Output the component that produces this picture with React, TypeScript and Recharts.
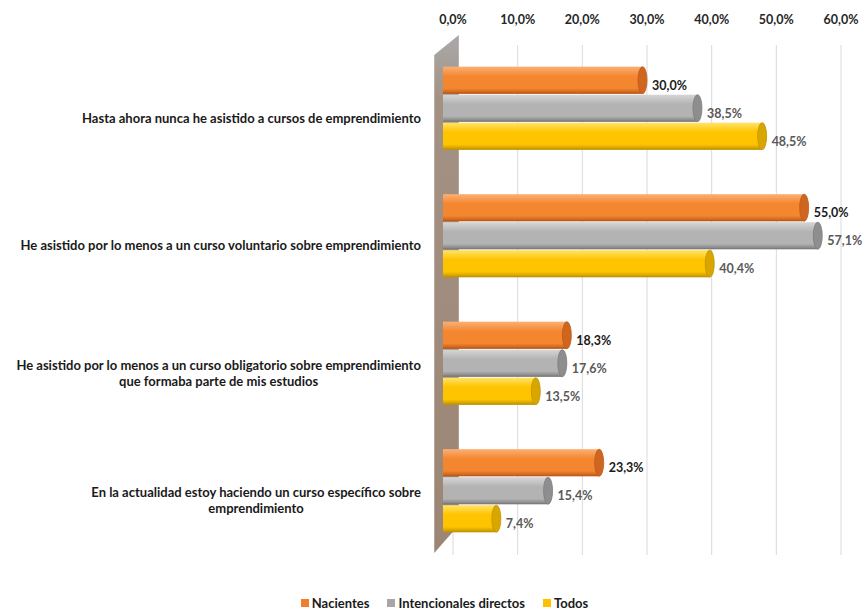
import React from "react";
import {
  BarChart,
  Bar,
  XAxis,
  YAxis,
  CartesianGrid,
  Legend,
  LabelList,
  ReferenceArea,
} from "recharts";

const categories = [
  "Hasta ahora nunca he asistido a cursos de emprendimiento",
  "He asistido por lo menos a un curso voluntario sobre emprendimiento",
  "He asistido por lo menos a un curso obligatorio sobre emprendimiento\nque formaba parte de mis estudios",
  "En la actualidad estoy haciendo un curso específico sobre\nemprendimiento",
];
const nacientes = [30.0, 55.0, 18.3, 23.3];
const intencionales = [38.5, 57.1, 17.6, 15.4];
const todos = [48.5, 40.4, 13.5, 7.4];
const xTicks = [0, 10, 20, 30, 40, 50, 60];
const seriesNames = ["Nacientes", "Intencionales directos", "Todos"];

const data = categories.map((c, i) => ({
  cat: c,
  nacientes: nacientes[i],
  intencionales: intencionales[i],
  todos: todos[i],
}));

const FONT = "Lato, 'Open Sans', sans-serif";
const LABEL_FONT_SIZE = 13;

const palette = [
  { id: "gOr", light: "#FBB075", main: "#F4862F", dark: "#BE5A19", cap: "#CF651F", legend: "#F07F2D", label: "#1a1a1a" },
  { id: "gGr", light: "#D6D6D6", main: "#B3B3B3", dark: "#7C7C7C", cap: "#8E8E8E", legend: "#A6A6A6", label: "#595959" },
  { id: "gYe", light: "#FFE36A", main: "#FFC400", dark: "#C29400", cap: "#D9A600", legend: "#FFC000", label: "#595959" },
];

function fmt(v: number) {
  return v.toFixed(1).replace(".", ",") + "%";
}

let canvasCtx: CanvasRenderingContext2D | null = null;
function measure(text: string) {
  if (!canvasCtx) {
    const c = document.createElement("canvas");
    canvasCtx = c.getContext("2d");
  }
  if (!canvasCtx) return text.length * 6.5;
  canvasCtx.font = `bold ${LABEL_FONT_SIZE}px Lato`;
  return canvasCtx.measureText(text).width;
}

function CategoryTick(props: any) {
  const { x, y, payload } = props;
  const lines: string[] = String(payload.value).split("\n");
  const right = x - 24;
  const w0 = measure(lines[0]);
  const center = right - w0 / 2;
  const lh = 16;
  const startY = y + 9 - ((lines.length - 1) * lh) / 2;
  return (
    <g>
      {lines.map((ln, i) => (
        <text
          key={i}
          x={lines.length === 1 ? right : center}
          y={startY + i * lh}
          textAnchor={lines.length === 1 ? "end" : "middle"}
          dominantBaseline="central"
          fontFamily={FONT}
          fontWeight={700}
          fontSize={LABEL_FONT_SIZE}
          fill="#1a1a1a"
        >
          {ln}
        </text>
      ))}
    </g>
  );
}

function makeCylinder(p: (typeof palette)[number]) {
  return (props: any) => {
    const { x, y, width, height } = props;
    if (width == null || height == null) return null;
    const left = x - 10;
    const rx = 4.5;
    const right = x + width - rx;
    const ry = height / 2;
    return (
      <g>
        <rect x={left} y={y} width={Math.max(0, right - left)} height={height} fill={`url(#${p.id})`} />
        <line x1={left} x2={right} y1={y + height - 0.5} y2={y + height - 0.5} stroke={p.dark} strokeWidth={1} />
        <ellipse cx={right} cy={y + ry} rx={rx} ry={ry} fill={p.cap} stroke={p.dark} strokeWidth={0.8} />
      </g>
    );
  };
}

function makeValueLabel(color: string) {
  return (props: any) => {
    const { x, y, width, height, value } = props;
    return (
      <text
        x={x + width + 5}
        y={y + height / 2 + 5}
        dominantBaseline="central"
        fontFamily={FONT}
        fontWeight={700}
        fontSize={12.5}
        fill={color}
      >
        {fmt(value)}
      </text>
    );
  };
}

function WallShape(props: any) {
  const { x, y, width, height } = props;
  const slant = 20;
  const top = y - 10;
  const h = height;
  const pts = [
    [x, top + slant],
    [x + width, top],
    [x + width, top + h - slant],
    [x, top + h + 8],
  ]
    .map((q) => q.join(","))
    .join(" ");
  return <polygon points={pts} fill="url(#gWall)" />;
}

function LegendContent() {
  return (
    <div
      style={{
        display: "flex",
        justifyContent: "center",
        gap: 18,
        paddingLeft: 26,
        fontFamily: FONT,
        fontWeight: 700,
        fontSize: 13,
        color: "#1a1a1a",
      }}
    >
      {seriesNames.map((n, i) => (
        <div key={n} style={{ display: "flex", alignItems: "center" }}>
          <span
            style={{
              display: "inline-block",
              width: 8,
              height: 8,
              background: palette[i].legend,
              marginRight: 3,
            }}
          />
          <span>{n}</span>
        </div>
      ))}
    </div>
  );
}

export default function App() {
  const keys = ["nacientes", "intencionales", "todos"];
  return (
    <div style={{ position: "absolute", left: 0, top: 0, width: 863, height: 610, background: "#fff" }}>
      <BarChart
        width={863}
        height={610}
        data={data}
        layout="vertical"
        margin={{ top: 5, right: 22, bottom: 39, left: 0 }}
        barCategoryGap="17%"
        barGap={1}
      >
        <defs>
          {palette.map((p) => (
            <linearGradient key={p.id} id={p.id} x1="0" y1="0" x2="0" y2="1">
              <stop offset="0" stopColor={p.light} />
              <stop offset="0.35" stopColor={p.main} />
              <stop offset="0.8" stopColor={p.main} />
              <stop offset="1" stopColor={p.dark} />
            </linearGradient>
          ))}
          <linearGradient id="gWall" x1="0" y1="0" x2="0" y2="1">
            <stop offset="0" stopColor="#A9A9A9" />
            <stop offset="0.12" stopColor="#A39284" />
            <stop offset="1" stopColor="#9C8574" />
          </linearGradient>
        </defs>
        <CartesianGrid horizontal={false} stroke="#DADADA" />
        <XAxis
          type="number"
          orientation="top"
          domain={[0, 60]}
          ticks={xTicks}
          tickFormatter={(v: number) => fmt(v)}
          axisLine={false}
          tickLine={false}
          height={40}
          tick={{ fontFamily: FONT, fontWeight: 700, fontSize: 12.5, fill: "#262626", dy: -13 }}
          interval={0}
        />
        <YAxis
          type="category"
          dataKey="cat"
          width={453}
          axisLine={false}
          tickLine={false}
          tick={<CategoryTick />}
          interval={0}
        />
        <ReferenceArea x1={-2.9} x2={0.9} ifOverflow="visible" shape={<WallShape />} />
        {keys.map((k, i) => (
          <Bar
            key={k}
            dataKey={k}
            name={seriesNames[i]}
            fill={palette[i].legend}
            shape={makeCylinder(palette[i])}
            isAnimationActive={false}
          >
            <LabelList dataKey={k} content={makeValueLabel(palette[i].label)} />
          </Bar>
        ))}
        <Legend
          verticalAlign="bottom"
          content={<LegendContent />}
          wrapperStyle={{ position: "absolute", top: 595, left: 0, width: 863 }}
        />
      </BarChart>
    </div>
  );
}
